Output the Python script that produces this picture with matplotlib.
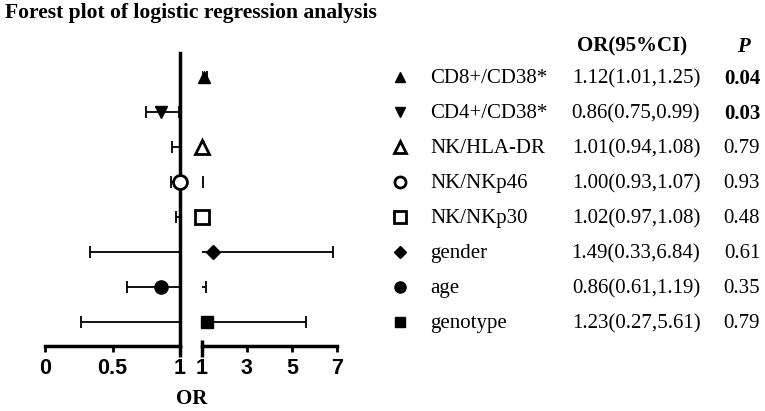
import matplotlib
matplotlib.use('Agg')
import matplotlib.pyplot as plt
import matplotlib.transforms as mtransforms

# rows from top to bottom
labels = ['CD8+/CD38*', 'CD4+/CD38*', 'NK/HLA-DR', 'NK/NKp46',
          'NK/NKp30', 'gender', 'age', 'genotype']
or_vals = [1.12, 0.86, 1.01, 1.00, 1.02, 1.49, 0.86, 1.23]
ci_lo = [1.01, 0.75, 0.94, 0.93, 0.97, 0.33, 0.61, 0.27]
ci_hi = [1.25, 0.99, 1.08, 1.07, 1.08, 6.84, 1.19, 5.61]
p_text = ['0.04', '0.03', '0.79', '0.93', '0.48', '0.61', '0.35', '0.79']
p_bold = [True, True, False, False, False, False, False, False]
left_ticks = [0, 0.5, 1]
right_ticks = [1, 3, 5, 7]

# marker, face colour
styles = [('^', 'k'), ('v', 'k'), ('^', 'w'), ('o', 'w'),
          ('s', 'w'), ('D', 'k'), ('o', 'k'), ('s', 'k')]
plot_ms = [9, 9, 10, 10, 9.5, 7.5, 9.5, 9]
leg_ms = [7.5, 7.5, 8, 8, 8, 6, 8, 7.5]

serif = 'Liberation Serif'
sans = 'Liberation Sans'
W, H = 765, 411

fig = plt.figure(figsize=(W / 100, H / 100), dpi=100)
bottom = 1 - 345.7 / H
height = (345.7 - 53) / H
ax1 = fig.add_axes([45 / W, bottom, 135 / W, height])
ax2 = fig.add_axes([201.7 / W, bottom, 135.3 / W, height])

n = len(labels)
ys = [n - i for i in range(n)]

for ax, lim in ((ax1, (0, 1)), (ax2, (1, 7))):
    ax.set_xlim(*lim)
    ax.set_ylim(0.33, 8.7)
    ax.set_yticks([])
    ax.set_facecolor('none')
    for s in ('top', 'left', 'right'):
        ax.spines[s].set_visible(False)
    ax.spines['bottom'].set_linewidth(2.5)
    ax.tick_params(axis='x', direction='out', length=4, width=2, pad=5,
                   labelsize=15.5)
    for i in range(n):
        o = or_vals[i]
        ax.errorbar(o, ys[i], xerr=[[o - ci_lo[i]], [ci_hi[i] - o]],
                    fmt='none', ecolor='k', elinewidth=1.3,
                    capsize=4.5, capthick=1.3)

ax1.spines['right'].set_visible(True)
ax1.spines['right'].set_linewidth(2.5)
ax1.set_xticks(left_ticks)
ax1.set_xticklabels(['0', '0.5', '1'])
ax2.set_xticks(right_ticks)
ax2.set_xticklabels([str(t) for t in right_ticks])
for ax in (ax1, ax2):
    for lab in ax.get_xticklabels():
        lab.set_fontfamily(sans)
        lab.set_fontweight('bold')

# longer marks at the axis break
ax1.plot([1, 1], [0, -0.038], transform=ax1.get_xaxis_transform(),
         color='k', lw=2.5, clip_on=False, solid_capstyle='butt')
ax2.plot([1, 1], [0.02, -0.038], transform=ax2.get_xaxis_transform(),
         color='k', lw=2.5, clip_on=False, solid_capstyle='butt')

# point estimates
for i in range(n):
    m, fc = styles[i]
    target = ax1 if or_vals[i] <= 1 else ax2
    target.plot(or_vals[i], ys[i], marker=m, ms=plot_ms[i], mfc=fc,
                mec='k', mew=2 if fc == 'w' else 1, linestyle='none',
                clip_on=False, zorder=6)

# title and axis label
fig.text(5 / W, 1 - 18.3 / H, 'Forest plot of logistic regression analysis',
         fontfamily=serif, fontweight='bold', fontsize=15.6, va='baseline')
fig.text(192 / W, 1 - 399 / H, 'OR', fontfamily=serif, fontweight='bold',
         fontsize=15, ha='center', va='center')

# table on the right
blend = mtransforms.blended_transform_factory(fig.transFigure, ax1.transData)
fig.text(632 / W, 1 - 51.5 / H, 'OR(95%CI)', fontfamily=serif,
         fontweight='bold', fontsize=15, ha='center', va='baseline')
fig.text(743 / W, 1 - 51.5 / H, 'P', fontfamily=serif, fontweight='bold',
         fontstyle='italic', fontsize=15, ha='center', va='baseline')

for i in range(n):
    m, fc = styles[i]
    ax1.plot(400 / W, ys[i], marker=m, ms=leg_ms[i], mfc=fc, mec='k',
             mew=2 if fc == 'w' else 1, transform=blend, clip_on=False)
    fig.text(430 / W, ys[i] - 0.04, labels[i], transform=blend,
             fontfamily=serif, fontsize=15, va='center')
    ci = f'{or_vals[i]:.2f}({ci_lo[i]:.2f},{ci_hi[i]:.2f})'
    fig.text(636 / W, ys[i] - 0.04, ci, transform=blend, fontfamily=serif,
             fontsize=15, ha='center', va='center')
    fig.text(742 / W, ys[i] - 0.04, p_text[i], transform=blend,
             fontfamily=serif, fontsize=15, ha='center', va='center',
             fontweight='bold' if p_bold[i] else 'normal')

fig.savefig('out.png', dpi=100)
